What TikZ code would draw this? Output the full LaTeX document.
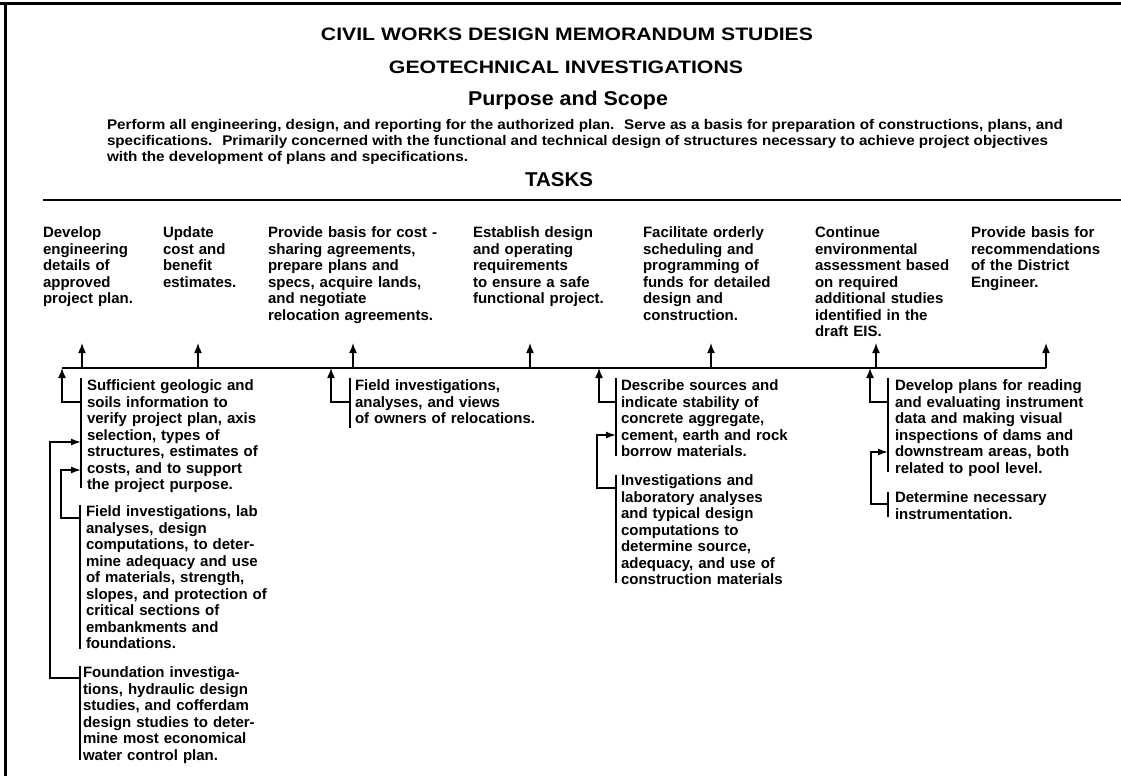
\documentclass[tikz,border=0pt]{standalone}
\usepackage{fontspec}
\setmainfont{Liberation Sans}
\usepackage{graphicx}
\usetikzlibrary{arrows.meta}

% set a line of text to a given width, keeping its height
\newcommand{\fitwidth}[2]{\resizebox{#1}{\height}{#2}}

\begin{document}
\begin{tikzpicture}[x=1pt,y=-1pt,
  every node/.style={inner sep=0pt, outer sep=0pt},
  heading/.style={anchor=base, font=\bfseries\fontsize{18}{20}\selectfont},
  bigheading/.style={anchor=base, font=\bfseries\fontsize{20}{22}\selectfont},
  para/.style={anchor=base west, font=\bfseries\fontsize{14}{16}\selectfont},
  task/.style={anchor=base west, align=left, text width=260pt,
               font=\bfseries\fontsize{15}{16.5}\selectfont},
  wire/.style={line width=1.5pt},
  bracket/.style={line width=1.3pt},
  up/.style={wire, -{Latex[length=10pt,width=8pt]}},
  feed/.style={wire, -{Latex[length=10pt,width=7pt]}},
]
\useasboundingbox (0,0) rectangle (1121,776);

% frame
\coordinate (frTL) at (0,4);
\coordinate (frTR) at (1121,4);
\coordinate (frLT) at (5.5,2.5);
\coordinate (frLB) at (5.5,776);
\draw[line width=3pt] (frTL) -- (frTR);
\draw[line width=2.5pt] (frLT) -- (frLB);

% headings
\node[heading] (title) at (567,40.5) {\fitwidth{492pt}{CIVIL WORKS DESIGN MEMORANDUM STUDIES}};
\node[heading] (subtitle) at (566,73.5) {\fitwidth{354pt}{GEOTECHNICAL INVESTIGATIONS}};
\node[bigheading] (purpose) at (568,105) {\fitwidth{200pt}{Purpose and Scope}};
\node[para] (p1) at (107,129) {\fitwidth{956pt}{Perform all engineering, design, and reporting for the authorized plan.~ Serve as a basis for preparation of constructions,~plans, and}};
\node[para] (p2) at (107,145) {\fitwidth{941pt}{specifications.~ Primarily concerned with the functional and technical design of structures necessary to achieve project objectives}};
\node[para] (p3) at (107,161) {\fitwidth{361pt}{with the development of plans and specifications.}};
\node[bigheading] (tasks) at (559,186) {\fitwidth{68pt}{TASKS}};

\coordinate (ruleL) at (43,200);
\coordinate (ruleR) at (1121,200);
\draw[line width=2pt] (ruleL) -- (ruleR);

% tasks
\node[task] (t1) at (43,237.5) {Develop\\engineering\\details of\\approved\\project plan.};
\node[task] (t2) at (163,237.5) {Update\\cost and\\benefit\\estimates.};
\node[task] (t3) at (268,237.5) {Provide basis for cost -\\sharing agreements,\\prepare plans and\\specs, acquire lands,\\and negotiate\\relocation agreements.};
\node[task] (t4) at (473,237.5) {Establish design\\and operating\\requirements\\to ensure a safe\\functional project.};
\node[task] (t5) at (643,237.5) {Facilitate orderly\\scheduling and\\programming of\\funds for detailed\\design and\\construction.};
\node[task] (t6) at (815,237.5) {Continue\\environmental\\assessment based\\on required\\additional studies\\identified in the\\draft EIS.};
\node[task] (t7) at (971,237.5) {Provide basis for\\recommendations\\of the District\\Engineer.};

% main distribution line and arrows up to the tasks
\coordinate (m0) at (62,368);
\coordinate (m1) at (82,368);
\coordinate (m2) at (198,368);
\coordinate (m3) at (353,368);
\coordinate (m4) at (530,368);
\coordinate (m5) at (711,368);
\coordinate (m6) at (876,368);
\coordinate (m7) at (1046,368);
\coordinate (h1) at (82,343);
\coordinate (h2) at (198,343);
\coordinate (h3) at (353,343);
\coordinate (h4) at (530,343);
\coordinate (h5) at (711,343);
\coordinate (h6) at (876,343);
\coordinate (h7) at (1046,343);
\draw[wire] (m0) -- (m7);
\foreach \i in {1,...,7} { \draw[up] (m\i) -- (h\i); }

% supporting studies
\node[task] (a1) at (87,390.5) {Sufficient geologic and\\soils information to\\verify project plan, axis\\selection, types of\\structures, estimates of\\costs, and to support\\the project purpose.};
\node[task] (a2) at (86,516.5) {Field investigations, lab\\analyses, design\\computations, to deter-\\mine adequacy and use\\of materials, strength,\\slopes, and protection of\\critical sections of\\embankments and\\foundations.};
\node[task] (a3) at (83,677.5) {Foundation investiga-\\tions, hydraulic design\\studies, and cofferdam\\design studies to deter-\\mine most economical\\water control plan.};
\node[task] (b1) at (355,390.5) {Field investigations,\\analyses, and views\\of owners of relocations.};
\node[task] (c1) at (621,390.5) {Describe sources and\\indicate stability of\\concrete aggregate,\\cement, earth and rock\\borrow materials.};
\node[task] (c2) at (621,485.5) {Investigations and\\laboratory analyses\\and typical design\\computations to\\determine source,\\adequacy, and use of\\construction materials};
\node[task] (d1) at (895,390.5) {Develop plans for reading\\and evaluating instrument\\data and making visual\\inspections of dams and\\downstream areas, both\\related to pool level.};
\node[task] (d2) at (895,502.5) {Determine necessary\\instrumentation.};

% brackets beside each study
\coordinate (a1t) at (81,378);  \coordinate (a1b) at (81,488);
\coordinate (a2t) at (80,505);  \coordinate (a2b) at (80,649);
\coordinate (a3t) at (80,666);  \coordinate (a3b) at (80,760);
\coordinate (b1t) at (350,378); \coordinate (b1b) at (350,428);
\coordinate (c1t) at (616,378); \coordinate (c1b) at (616,456);
\coordinate (c2t) at (616,475); \coordinate (c2b) at (616,583);
\coordinate (d1t) at (888,378); \coordinate (d1b) at (888,472);
\coordinate (d2t) at (888,492); \coordinate (d2b) at (888,517);
\foreach \b in {a1,a2,a3,b1,c1,c2,d1,d2} { \draw[bracket] (\b t) -- (\b b); }

% joins from the brackets to the main line
\coordinate (a1j) at (81,402);
\coordinate (b1j) at (350,402);
\coordinate (c1j) at (616,402);
\coordinate (d1j) at (888,402);
\coordinate (bm) at (331,368);
\coordinate (cm) at (599,368);
\coordinate (dm) at (870,368);
\draw[up] (a1j) -| (m0);
\draw[up] (b1j) -| (bm);
\draw[up] (c1j) -| (cm);
\draw[up] (d1j) -| (dm);

% feeds from lower studies into the upper ones
\coordinate (a2j) at (80,518);
\coordinate (a3j) at (80,678);
\coordinate (a1k) at (81,442);
\coordinate (a1m) at (81,470);
\coordinate (c2j) at (616,488);
\coordinate (c1k) at (616,435);
\coordinate (d2j) at (888,504);
\coordinate (d1k) at (888,452);
\draw[feed] (a3j) -- ++(-30,0) |- (a1k);
\draw[feed] (a2j) -- ++(-19,0) |- (a1m);
\draw[feed] (c2j) -- ++(-19,0) |- (c1k);
\draw[feed] (d2j) -- ++(-17,0) |- (d1k);
\end{tikzpicture}
\end{document}
